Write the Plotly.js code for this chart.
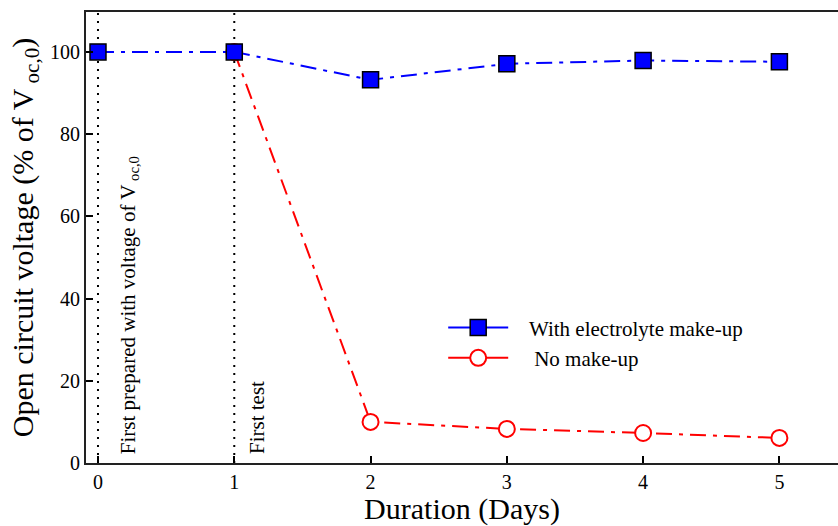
<!DOCTYPE html>
<html>
<head>
<meta charset="utf-8">
<script src="https://cdn.plot.ly/plotly-3.0.1.min.js"></script>
<style>html,body{margin:0;padding:0;background:#fff;overflow:hidden}#chart{width:838px;height:526px}</style>
</head>
<body>
<div id="chart"></div>
<script>
const days = [0, 1, 2, 3, 4, 5];
const withMakeup = [100, 100, 93.2, 97.1, 97.9, 97.6];
const noMakeupDays = [1, 2, 3, 4, 5];
const noMakeup = [100, 10.0, 8.3, 7.3, 6.1];
const xTicks = [0, 1, 2, 3, 4, 5];
const yTicks = [0, 20, 40, 60, 80, 100];
const markerLines = [0, 1];
const markerLabels = ["First prepared with voltage of V<sub> oc,0</sub>", "First test"];
const labelShift = [16, 8];
const seriesNames = ["&nbsp;&nbsp;&nbsp;With electrolyte make-up", "&nbsp;&nbsp;&nbsp;&nbsp;No make-up"];

const serif = "Liberation Serif, Times New Roman, serif";

const blueMarker = {symbol: "square", size: 16, color: "#0000ff", line: {color: "#000000", width: 1.5}};
const redMarker = {symbol: "circle", size: 16, color: "#ffffff", line: {color: "#ff0000", width: 2}};

const traces = [
  {
    x: noMakeupDays, y: noMakeup, name: seriesNames[1], mode: "lines+markers",
    line: {color: "#ff0000", width: 2, dash: "16px,7px,4px,7px"},
    marker: redMarker, showlegend: false
  },
  {
    x: days, y: withMakeup, name: seriesNames[0], mode: "lines+markers",
    line: {color: "#0000ff", width: 2, dash: "16px,7px,4px,7px"},
    marker: blueMarker, showlegend: false
  },
  {
    x: [null], y: [null], name: seriesNames[0], mode: "lines+markers",
    line: {color: "#0000ff", width: 2}, marker: blueMarker, legendrank: 1
  },
  {
    x: [null], y: [null], name: seriesNames[1], mode: "lines+markers",
    line: {color: "#ff0000", width: 2}, marker: redMarker, legendrank: 2
  }
];

const shapes = markerLines.map(v => ({
  type: "line", xref: "x", yref: "paper", x0: v, x1: v, y0: 0, y1: 1,
  line: {color: "#000000", width: 2, dash: "2px,6px"}, layer: "below"
}));

const annotations = markerLines.map((v, i) => ({
  x: v, y: 0.015, xref: "x", yref: "paper", text: markerLabels[i],
  textangle: -90, showarrow: false, xanchor: "left", yanchor: "bottom",
  xshift: labelShift[i], font: {family: serif, size: 21, color: "#000"}
}));

const layout = {
  width: 838, height: 526,
  margin: {l: 86, r: 0, t: 12, b: 63},
  paper_bgcolor: "#fff", plot_bgcolor: "#fff",
  font: {family: serif, color: "#000"},
  showlegend: true,
  legend: {
    x: 0.475, y: 0.345, xanchor: "left", yanchor: "top",
    bgcolor: "rgba(0,0,0,0)", font: {family: serif, size: 21, color: "#000"},
    traceorder: "normal", itemwidth: 60, tracegroupgap: 0
  },
  xaxis: {
    range: [-0.088, 5.43], tickvals: xTicks, ticktext: xTicks.map(String),
    ticks: "inside", ticklen: 7, tickwidth: 2, tickcolor: "#000",
    showline: true, linecolor: "#222", linewidth: 2, mirror: true,
    showgrid: false, zeroline: false,
    tickfont: {family: serif, size: 20},
    title: {text: "Duration (Days)", font: {family: serif, size: 30}, standoff: 8}
  },
  yaxis: {
    range: [0, 109.7], tickvals: yTicks, ticktext: yTicks.map(String),
    ticks: "inside", ticklen: 7, tickwidth: 2, tickcolor: "#000",
    showline: true, linecolor: "#222", linewidth: 2, mirror: false,
    showgrid: false, zeroline: false,
    tickfont: {family: serif, size: 20},
    title: {text: "Open circuit voltage (% of V<sub> oc,0</sub>)", font: {family: serif, size: 30}, standoff: 8}
  },
  shapes: shapes,
  annotations: annotations
};

Plotly.newPlot("chart", traces, layout, {staticPlot: true, displayModeBar: false});
</script>
</body>
</html>
